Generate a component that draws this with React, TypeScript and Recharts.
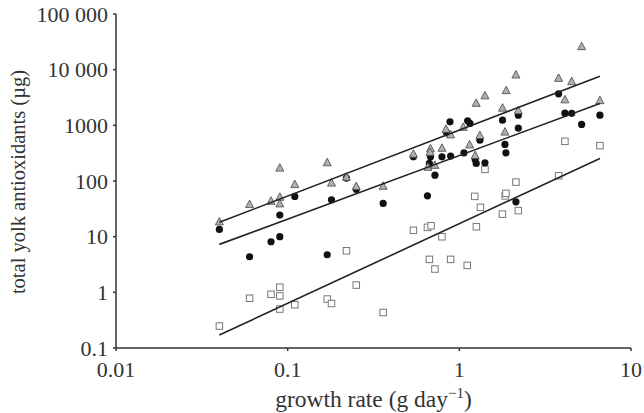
import React from "react";
import { ScatterChart, Scatter, XAxis, YAxis } from "recharts";

const xTicks = [0.01, 0.1, 1, 10];
const yTicks = [0.1, 1, 10, 100, 1000, 10000, 100000];

const triX = [0.040, 0.060, 0.080, 0.090, 0.090, 0.090, 0.110, 0.170, 0.180, 0.220, 0.251, 0.360, 0.540, 0.679, 0.675, 0.656, 0.720, 0.792, 0.836, 0.890, 1.054, 1.148, 1.254, 1.318, 1.237, 1.410, 1.785, 1.844, 1.875, 2.136, 2.206, 3.787, 4.121, 4.514, 5.157, 6.59];
const triY = [18.8, 38.5, 44.1, 174, 52.0, 39.6, 88.0, 217, 93.6, 119, 81.0, 82.0, 310, 387, 334, 180, 195, 395, 865, 686, 940, 454, 2535, 667, 292, 3455, 2078, 771, 4285, 8200, 1875, 7125, 2930, 6217, 26420, 2834];

const dotX = [0.040, 0.060, 0.080, 0.090, 0.090, 0.110, 0.170, 0.180, 0.220, 0.251, 0.360, 0.540, 0.652, 0.679, 0.669, 0.721, 0.792, 0.844, 0.882, 0.890, 1.064, 1.118, 1.153, 1.318, 1.237, 1.254, 1.410, 1.785, 1.844, 1.868, 2.136, 2.206, 2.206, 3.787, 4.121, 4.514, 5.157, 6.59];
const dotY = [13.5, 4.36, 8.10, 10.0, 24.4, 52.9, 4.73, 46.0, 113, 71.0, 39.6, 272, 54.2, 274, 207, 127, 272, 733, 1156, 280, 321, 1205, 1082, 542, 244, 207, 212, 1240, 454, 321, 42.3, 1524, 891, 3677, 1656, 1642, 1038, 1524];

const sqX = [0.040, 0.060, 0.080, 0.090, 0.090, 0.090, 0.110, 0.170, 0.180, 0.220, 0.251, 0.360, 0.540, 0.652, 0.684, 0.792, 0.669, 0.721, 0.890, 1.112, 1.229, 1.257, 1.327, 1.410, 1.782, 1.851, 1.868, 2.136, 2.206, 3.787, 4.121, 6.59];
const sqY = [0.248, 0.783, 0.921, 1.235, 0.865, 0.501, 0.597, 0.758, 0.630, 5.58, 1.35, 0.434, 13.0, 14.7, 15.7, 9.96, 3.91, 2.62, 3.91, 3.05, 52.9, 15.1, 33.6, 162, 25.4, 54.0, 59.9, 95.6, 29.4, 124, 516, 432];

const fitX = [0.04, 6.59];
const fitTriY = [18.1, 7640];
const fitDotY = [7.27, 2473];
const fitSqY = [0.171, 254];

const zip = (xs: number[], ys: number[]) => xs.map((x, i) => ({ x, y: ys[i] }));

const triData = zip(triX, triY);
const dotData = zip(dotX, dotY);
const sqData = zip(sqX, sqY);
const fitTri = zip(fitX, fitTriY);
const fitDot = zip(fitX, fitDotY);
const fitSq = zip(fitX, fitSqY);

const FONT = "'Liberation Serif', 'Times New Roman', serif";
const AXIS = "#333";

const Triangle = (p: any) => {
  const { cx, cy } = p;
  if (cx == null || cy == null) return <g />;
  const h = 7;
  const w = 8;
  return (
    <polygon
      points={`${cx},${cy - h / 2 - 0.5} ${cx - w / 2},${cy + h / 2} ${cx + w / 2},${cy + h / 2}`}
      fill="#b0b0b0"
      stroke="#555"
      strokeWidth={0.9}
    />
  );
};

const Dot = (p: any) => {
  const { cx, cy } = p;
  if (cx == null || cy == null) return <g />;
  return <circle cx={cx} cy={cy} r={3.6} fill="#111" />;
};

const Square = (p: any) => {
  const { cx, cy } = p;
  if (cx == null || cy == null) return <g />;
  const s = 6.5;
  return <rect x={cx - s / 2} y={cy - s / 2} width={s} height={s} fill="#fff" stroke="#777" strokeWidth={1} />;
};

const NoShape = () => <g />;

const fmtY = (v: number) => {
  if (v === 100000) return "100 000";
  if (v === 10000) return "10 000";
  return String(v);
};

const XLabel = (props: any) => {
  const vb = props.viewBox || {};
  const cx = vb.x + vb.width / 2;
  return (
    <text x={cx} y={407} textAnchor="middle" fontFamily={FONT} fontSize={23.5} fill="#333">
      growth rate (g day
      <tspan fontSize={15} dy={-9}>−1</tspan>
      <tspan dy={9}>)</tspan>
    </text>
  );
};

const YLabel = (props: any) => {
  const vb = props.viewBox || {};
  const cy = vb.y + vb.height / 2 + 1;
  return (
    <text
      x={25}
      y={cy}
      textAnchor="middle"
      transform={`rotate(-90, 25, ${cy})`}
      fontFamily={FONT}
      fontSize={20.5}
      fill="#333"
    >
      total yolk antioxidants (µg)
    </text>
  );
};

export default function App() {
  return (
    <div style={{ position: "absolute", left: 0, top: 0, width: 644, height: 413, background: "#fff" }}>
      <ScatterChart width={644} height={413} margin={{ top: 14, right: 13, bottom: 0, left: 0 }}>
        <XAxis
          type="number"
          dataKey="x"
          scale="log"
          domain={[0.01, 10]}
          ticks={xTicks}
          allowDataOverflow
          height={65}
          tickSize={3}
          tickMargin={10}
          stroke={AXIS}
          strokeWidth={1.5}
          tick={{ fontFamily: FONT, fontSize: 22, fill: "#333" }}
          tickFormatter={(v: number) => String(v)}
          label={<XLabel />}
        />
        <YAxis
          type="number"
          dataKey="y"
          scale="log"
          domain={[0.1, 100000]}
          ticks={yTicks}
          allowDataOverflow
          width={116}
          tickSize={3}
          tickMargin={5}
          stroke={AXIS}
          strokeWidth={1.5}
          tick={{ fontFamily: FONT, fontSize: 22, fill: "#333" }}
          tickFormatter={fmtY}
          label={<YLabel />}
        />
        <Scatter data={sqData} shape={Square} isAnimationActive={false} />
        <Scatter data={dotData} shape={Dot} isAnimationActive={false} />
        <Scatter data={triData} shape={Triangle} isAnimationActive={false} />
        <Scatter data={fitTri} shape={NoShape} line={{ stroke: "#222", strokeWidth: 1.6 }} isAnimationActive={false} />
        <Scatter data={fitDot} shape={NoShape} line={{ stroke: "#222", strokeWidth: 1.6 }} isAnimationActive={false} />
        <Scatter data={fitSq} shape={NoShape} line={{ stroke: "#222", strokeWidth: 1.6 }} isAnimationActive={false} />
      </ScatterChart>
    </div>
  );
}
